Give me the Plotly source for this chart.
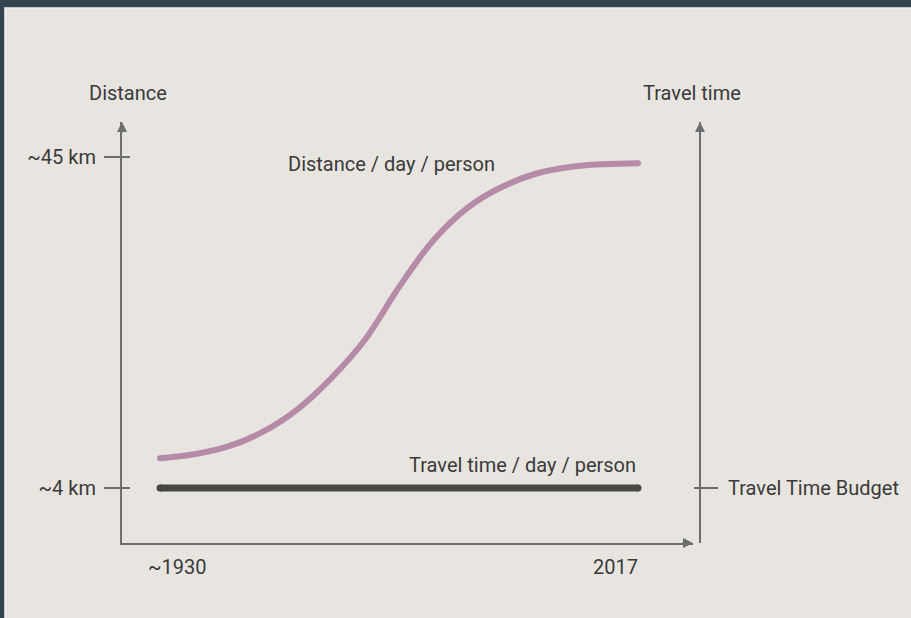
import plotly.graph_objects as go

# Travel time budget sketch: distance per day grows, travel time stays flat
years = [1930, 1936.2, 1942.4, 1948.6, 1954.9, 1961.1, 1967.3, 1973.5,
         1979.7, 1985.9, 1992.1, 1998.4, 2004.6, 2010.8, 2017]
distance_km = [7.68, 8.18, 9.15, 10.92, 13.69, 17.56, 22.36, 28.88,
               34.64, 38.68, 41.25, 42.93, 43.77, 44.11, 44.23]
travel_years = [1930, 2017]
travel_level = [4, 4]

y_ticks = [4, 45]
y_ticktext = ['~4 km', '~45 km']
x_labels = ['~1930', '2017']

W, H = 911, 618
FONT = 'Roboto'
TXT = '#3a3a3a'
AX = '#6e6e6e'
PURPLE = '#b68ba8'
DARK = '#454843'

fig = go.Figure()

# Distance / day / person
fig.add_trace(go.Scatter(
    x=years, y=distance_km, mode='lines',
    line=dict(color=PURPLE, width=6, shape='spline', smoothing=1.0),
    hoverinfo='skip'))
# round ends of the purple curve
fig.add_trace(go.Scatter(
    x=[years[0], years[-1]], y=[distance_km[0], distance_km[-1]], mode='markers',
    marker=dict(color=PURPLE, size=6), hoverinfo='skip'))
# Travel time / day / person
fig.add_trace(go.Scatter(
    x=travel_years, y=travel_level, mode='lines+markers',
    line=dict(color=DARK, width=7),
    marker=dict(color=DARK, size=7),
    hoverinfo='skip'))
# invisible trace so the right axis gets drawn
fig.add_trace(go.Scatter(x=travel_years, y=travel_level, yaxis='y2',
                         mode='lines', line=dict(width=0), hoverinfo='skip'))

fig.update_layout(
    width=W, height=H,
    margin=dict(l=0, r=0, t=0, b=0),
    paper_bgcolor='#34444f',
    plot_bgcolor='rgba(0,0,0,0)',
    showlegend=False,
    font=dict(family=FONT, size=20, color=TXT),
    xaxis=dict(domain=[122 / W, 693 / W], range=[1923.08, 2027.01],
               showgrid=False, zeroline=False, showline=True, linecolor=AX,
               linewidth=2, showticklabels=False, ticks=''),
    yaxis=dict(domain=[75 / H, 496 / H], range=[-2.81, 49.34],
               showgrid=False, zeroline=False, showline=True, linecolor=AX,
               linewidth=2, tickvals=y_ticks, ticktext=y_ticktext,
               ticks='outside', ticklen=16, tickwidth=2, tickcolor=AX,
               ticklabelstandoff=4),
    yaxis2=dict(overlaying='y', anchor='free', position=700 / W, side='right',
                range=[-2.81, 49.34], showgrid=False, zeroline=False,
                showline=True, linecolor=AX, linewidth=2,
                tickvals=[4], ticktext=['Travel Time Budget'],
                ticks='outside', ticklen=17, tickwidth=2, tickcolor=AX,
                ticklabelstandoff=6),
)

# beige panel
fig.add_shape(type='rect', xref='paper', yref='paper', x0=5 / W, x1=1.01,
              y0=-0.01, y1=(H - 8) / H, fillcolor='#e8e5e0',
              line=dict(color='#f4f4f2', width=1.5), layer='below')

# tick crossings on the inner side of the axes
for v in y_ticks:
    fig.add_shape(type='line', xref='x domain', yref='y', xsizemode='pixel',
                  xanchor=0, x0=0, x1=8, y0=v, y1=v,
                  line=dict(color=AX, width=2))
fig.add_shape(type='line', xref='paper', yref='y', xsizemode='pixel',
              xanchor=700 / W, x0=-6, x1=0, y0=4, y1=4,
              line=dict(color=AX, width=2))

# arrow heads
arrow = dict(showarrow=True, arrowhead=2, arrowsize=1, arrowwidth=2,
             arrowcolor=AX, text='')
fig.add_annotation(x=0, y=1, xref='x domain', yref='y domain', ax=0, ay=12, **arrow)
fig.add_annotation(x=1, y=0, xref='x domain', yref='y domain', ax=-12, ay=0, **arrow)
fig.add_annotation(x=700 / W, y=1, xref='paper', yref='y domain', ax=0, ay=12, **arrow)

# axis titles
fig.add_annotation(x=128 / W, y=(H - 93) / H, xref='paper', yref='paper',
                   text='Distance', showarrow=False, xanchor='center',
                   yanchor='middle')
fig.add_annotation(x=692 / W, y=(H - 93) / H, xref='paper', yref='paper',
                   text='Travel time', showarrow=False, xanchor='center',
                   yanchor='middle')

# x labels
fig.add_annotation(x=travel_years[0], y=(H - 567) / H, xref='x', yref='paper',
                   text=x_labels[0], showarrow=False, xanchor='left',
                   xshift=-14, yanchor='middle')
fig.add_annotation(x=travel_years[1], y=(H - 567) / H, xref='x', yref='paper',
                   text=x_labels[1], showarrow=False, xanchor='right',
                   xshift=2, yanchor='middle')

# series labels
fig.add_annotation(x=1972.2, y=45, xref='x', yref='y', yshift=-7,
                   text='Distance / day / person', showarrow=False)
fig.add_annotation(x=years[-1], y=travel_level[0], xref='x', yref='y',
                   yshift=23, xanchor='right', text='Travel time / day / person',
                   showarrow=False)

fig.write_html('out.html', config={'displayModeBar': False}, post_script=(
    "document.body.style.margin='0';"
    "document.body.style.background='#34444f';"
    "document.body.style.overflow='hidden';"))
